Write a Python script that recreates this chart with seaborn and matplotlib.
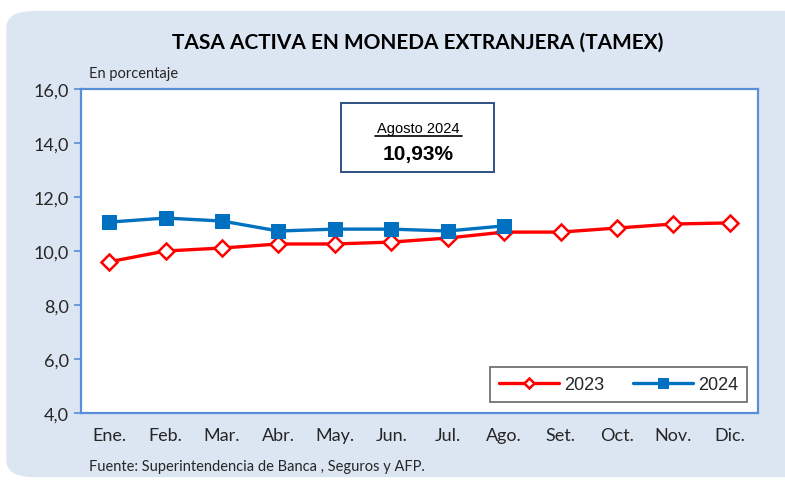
import pandas as pd
import numpy as np
import matplotlib
matplotlib.use('Agg')
import matplotlib.pyplot as plt
import seaborn as sns
from matplotlib.patches import FancyBboxPatch

#datos
meses = ['Ene.', 'Feb.', 'Mar.', 'Abr.', 'May.', 'Jun.', 'Jul.', 'Ago.', 'Set.', 'Oct.', 'Nov.', 'Dic.']
tasa_2023 = [9.60, 10.00, 10.11, 10.26, 10.26, 10.33, 10.48, 10.70, 10.70, 10.85, 11.00, 11.04]
tasa_2024 = [11.07, 11.22, 11.11, 10.74, 10.81, 10.81, 10.74, 10.93]
y_ticks = [4.0, 6.0, 8.0, 10.0, 12.0, 14.0, 16.0]

df23 = pd.DataFrame({'pos': range(len(tasa_2023)), 'tasa': tasa_2023})
df24 = pd.DataFrame({'pos': range(len(tasa_2024)), 'tasa': tasa_2024})

sns.set_style('white')
plt.rcParams['font.family'] = ['Lato', 'DejaVu Sans']

fig = plt.figure(figsize=(7.85, 4.81), dpi=100)
fig.patch.set_facecolor('white')
#fondo celeste redondeado
bg = FancyBboxPatch((0.008, 0.006), 1.1, 0.969, boxstyle='round,pad=0,rounding_size=0.035',
                    transform=fig.transFigure, facecolor='#dce6f2', edgecolor='none', zorder=-5)
fig.patches.append(bg)

ax = fig.add_axes([0.1032, 0.1393, 0.8624, 0.6736])
ax.set_zorder(2)
ax.set_facecolor('white')

sns.lineplot(x='pos', y='tasa', data=df23, ax=ax, color='#ff0000', linewidth=2.4,
             marker='D', markersize=8, markerfacecolor='white', markeredgecolor='#ff0000',
             markeredgewidth=1.8, label='2023')
sns.lineplot(x='pos', y='tasa', data=df24, ax=ax, color='#0070c0', linewidth=2.4,
             marker='s', markersize=10, markerfacecolor='#0070c0', markeredgecolor='#0070c0',
             label='2024')

ax.set_xlim(-0.5, len(meses) - 0.5)
ax.set_ylim(4, 16)
ax.set_yticks(y_ticks)
ax.set_yticklabels([('%.1f' % v).replace('.', ',') for v in y_ticks], fontsize=13)
ax.set_xticks(np.arange(len(meses)))
ax.set_xticklabels(meses, fontsize=13)
ax.set_xticks(np.arange(-0.5, len(meses)), minor=True)
ax.tick_params(axis='x', which='major', length=0, pad=10)
ax.tick_params(axis='x', which='minor', length=5, color='#5b8ed8', direction='out', width=1.2)
ax.tick_params(axis='y', length=5, color='#5b8ed8', direction='out', pad=4, left=True, width=1.2)
ax.set_xlabel('')
ax.set_ylabel('')
for s in ax.spines.values():
    s.set_color('#5b8ed8')
    s.set_linewidth(1.6)

leg = ax.legend(loc='lower right', bbox_to_anchor=(0.984, 0.034), borderaxespad=0, ncol=2,
                frameon=True, fancybox=False, edgecolor='#404040', handlelength=3.3,
                handletextpad=0.3, columnspacing=1.6, borderpad=0.5, markerscale=0.7,
                prop={'family': 'Liberation Sans', 'size': 13})
leg.get_frame().set_linewidth(1.2)

#recuadro agosto
ax.text(0.4985, 0.867, 'Agosto 2024', transform=ax.transAxes, ha='center', va='baseline',
        fontsize=10.5, family='Liberation Sans', color='black')
ax.plot([0.434, 0.563], [0.855, 0.855], transform=ax.transAxes, color='black', linewidth=1.2)
ax.text(0.4985, 0.80, '10,93%', transform=ax.transAxes, ha='center', va='center',
        fontsize=15, fontweight='bold', family='Liberation Sans', color='black')
box = plt.Rectangle((0.384, 0.744), 0.226, 0.213, transform=ax.transAxes, fill=False,
                    edgecolor='#2f5283', linewidth=1.4)
ax.add_patch(box)

fig.text(0.532, 0.911, 'TASA ACTIVA EN MONEDA EXTRANJERA (TAMEX)', ha='center', va='center',
         fontsize=15, fontweight='bold', color='black')
fig.text(0.113, 0.846, 'En porcentaje', ha='left', va='center', fontsize=10.5)
fig.text(0.113, 0.029, 'Fuente: Superintendencia de Banca , Seguros y AFP.', ha='left',
         va='center', fontsize=10.5)

fig.savefig('out.png', dpi=100, facecolor=fig.get_facecolor())
